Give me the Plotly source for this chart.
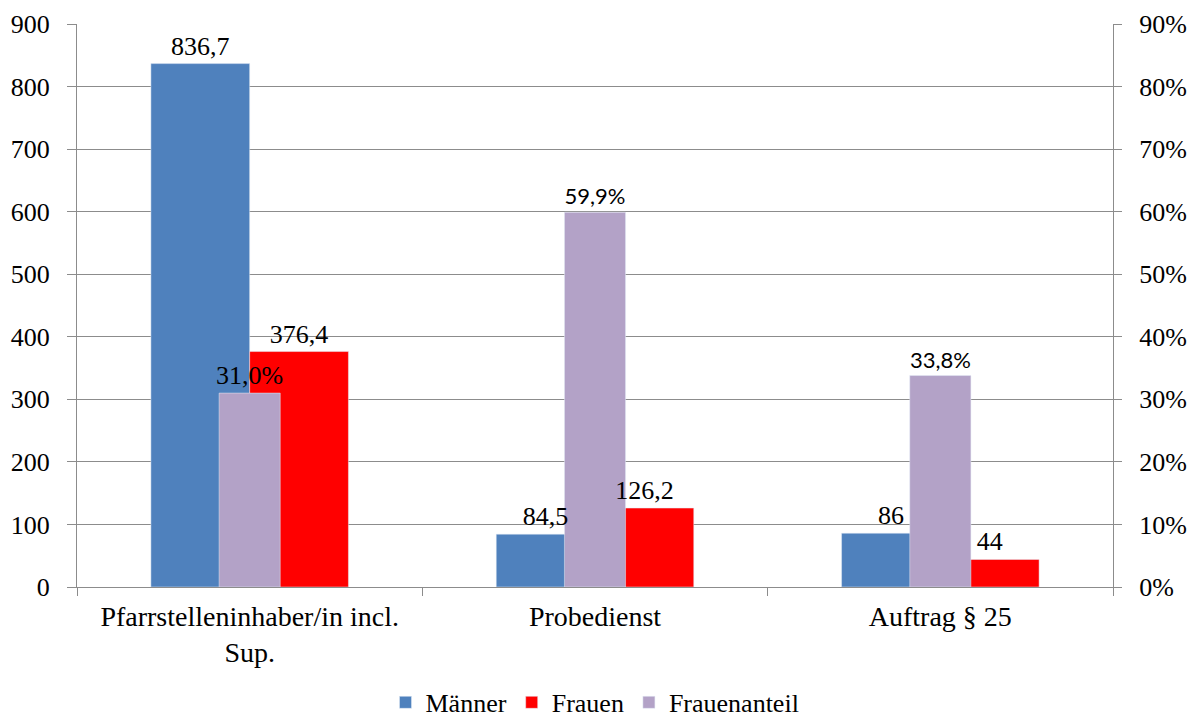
import plotly.graph_objects as go

categories = ["Pfarrstelleninhaber/in incl.<br>Sup.", "Probedienst", "Auftrag § 25"]
maenner = [836.7, 84.5, 86]
frauen = [376.4, 126.2, 44]
frauenanteil = [31.0, 59.9, 33.8]

y_ticks = list(range(0, 1000, 100))
y2_ticks = list(range(0, 100, 10))
y2_ticktext = [f"{t}%" for t in y2_ticks]
Y_RANGE = [0, 900]
Y2_RANGE = [0, 90]

def num_label(v):
    return f"{v:g}".replace(".", ",")

def pct_label(v):
    return f"{v:.1f}%".replace(".", ",")

SERIF = "Liberation Serif"
SANS = "Lato"
GRID = "#8c8c8c"
W_MAIN = 0.286
W_PCT = 0.177

fig = go.Figure()
# visible bars
fig.add_trace(go.Bar(
    x=categories, y=maenner, name="Männer", marker_color="#4F81BD",
    width=W_MAIN, offset=-W_MAIN, hoverinfo="x+y",
))
fig.add_trace(go.Bar(
    x=categories, y=frauen, name="Frauen", marker_color="#FF0000",
    width=W_MAIN, offset=0.0, hoverinfo="x+y",
))
fig.add_trace(go.Bar(
    x=categories, y=frauenanteil, name="Frauenanteil", marker_color="#B3A2C7",
    width=W_PCT, offset=-W_PCT / 2, yaxis="y2",
    text=[pct_label(v) for v in frauenanteil], textposition="outside",
    constraintext="none", cliponaxis=False,
    textfont=dict(family=[SERIF, SANS, SANS], size=[26, 22, 22], color="black"),
))
# transparent label carriers on a hidden axis (same scale as y) drawn above all bars
for vals, off in ((maenner, -W_MAIN), (frauen, 0.0)):
    fig.add_trace(go.Bar(
        x=categories, y=vals, showlegend=False, hoverinfo="skip", yaxis="y3",
        marker=dict(color="rgba(0,0,0,0)", line=dict(width=0)),
        width=W_MAIN, offset=off,
        text=[num_label(v) for v in vals], textposition="outside",
        constraintext="none", cliponaxis=False,
        textfont=dict(family=SERIF, size=26, color="black"),
    ))

fig.update_layout(
    width=1187, height=714,
    margin=dict(l=69, r=82, t=16, b=135, autoexpand=False),
    paper_bgcolor="white", plot_bgcolor="white",
    barmode="overlay",
    showlegend=True,
    legend=dict(orientation="h", x=0.5, xanchor="center", y=-0.205, yanchor="middle",
                font=dict(family=SERIF, size=26, color="black"),
                tracegroupgap=0, traceorder="normal"),
    xaxis=dict(
        type="category", tickson="boundaries", ticks="outside", ticklen=8,
        tickcolor=GRID, showline=True, linecolor=GRID, linewidth=1,
        showgrid=False, automargin=False, ticklabelstandoff=4,
        tickfont=dict(family=SERIF, size=28, color="black"),
    ),
    yaxis=dict(
        range=Y_RANGE, tickvals=y_ticks, ticks="outside", ticklen=9, tickcolor=GRID,
        showline=True, linecolor=GRID, linewidth=1, automargin=False,
        showgrid=True, gridcolor=GRID, gridwidth=1, zeroline=False,
        ticklabelstandoff=12,
        tickfont=dict(family=SERIF, size=26, color="black"),
    ),
    yaxis2=dict(
        range=Y2_RANGE, tickvals=y2_ticks, ticktext=y2_ticktext, overlaying="y", side="right",
        ticks="outside", ticklen=8, tickcolor=GRID, automargin=False,
        showline=True, linecolor=GRID, linewidth=1, showgrid=False, zeroline=False,
        ticklabelstandoff=12,
        tickfont=dict(family=SERIF, size=26, color="black"),
    ),
    yaxis3=dict(
        range=Y_RANGE, overlaying="y", visible=False, showgrid=False, zeroline=False,
        automargin=False,
    ),
)

fig.write_html("out.html")
